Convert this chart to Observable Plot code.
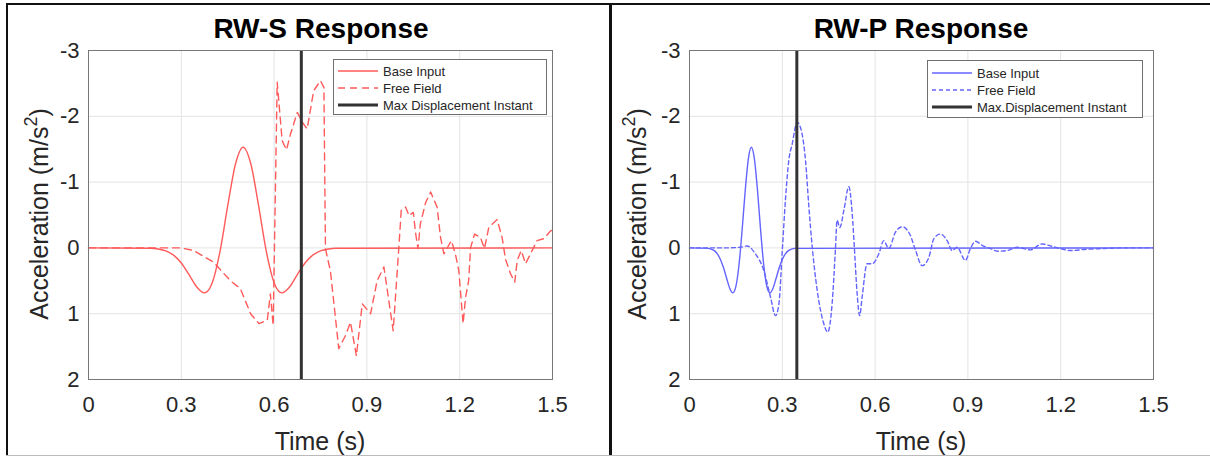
<!DOCTYPE html>
<html>
<head>
<meta charset="utf-8">
<script src="https://cdn.jsdelivr.net/npm/d3@7"></script>
<script src="https://cdn.jsdelivr.net/npm/@observablehq/plot@0.6"></script>
<style>
  html, body { margin: 0; padding: 0; background: #fff; }
  #wrap { position: relative; width: 1210px; height: 458px; overflow: hidden; background: #fff;
          font-family: "Liberation Sans", Arial, Helvetica, sans-serif; color: #262626; }
  .panel { position: absolute; top: 0; }
  .line { position: absolute; }
  .title { position: absolute; font-weight: bold; font-size: 28px; color: #000; transform: translate(-50%, -50%); white-space: nowrap; }
  .xlab { position: absolute; font-size: 25px; transform: translate(-50%, -50%); white-space: nowrap; }
  .ylab { position: absolute; font-size: 25px; transform: translate(-50%, -50%) rotate(-90deg); white-space: nowrap; }
  .ylab sup { font-size: 18px; position: relative; top: -4px; vertical-align: top; }
  .legend { position: absolute; border: 1px solid #6f6f6f; background: #fff; box-sizing: border-box; }
  .lrow { position: absolute; left: 4px; height: 16px; display: flex; align-items: center; font-size: 13px; color: #262626; white-space: nowrap; }
  .lrow svg { margin-right: 5px; }
</style>
</head>
<body>
<div id="wrap"></div>
<script>
// ---------- data ----------
const xTicks = [0, 0.3, 0.6, 0.9, 1.2, 1.5];
const yTicks = [-3, -2, -1, 0, 1, 2];

// RW-S panel
const sBaseTime = [0, 0.2, 0.225, 0.25, 0.275, 0.3, 0.325, 0.35, 0.375, 0.4, 0.425, 0.45, 0.475, 0.5,
  0.525, 0.55, 0.575, 0.6, 0.625, 0.65, 0.675, 0.7, 0.725, 0.75, 0.775, 0.8, 1.5];
const sBaseAcc = [0, 0.005, 0.016, 0.045, 0.110, 0.229, 0.406, 0.594, 0.683, 0.529, 0.057, -0.637, -1.272, -1.53,
  -1.272, -0.637, 0.057, 0.529, 0.683, 0.594, 0.406, 0.229, 0.110, 0.045, 0.016, 0.005, 0];
const sFreeTime = [0, 0.30, 0.34, 0.405, 0.459, 0.491, 0.524, 0.551, 0.578, 0.588, 0.597, 0.610, 0.626, 0.640,
  0.653, 0.675, 0.691, 0.707, 0.728, 0.750, 0.761, 0.766, 0.782, 0.809, 0.831, 0.847, 0.866, 0.885, 0.912,
  0.933, 0.955, 0.985, 1.003, 1.011, 1.025, 1.036, 1.050, 1.057, 1.065, 1.073, 1.090, 1.106, 1.127, 1.138,
  1.149, 1.173, 1.186, 1.197, 1.211, 1.219, 1.229, 1.235, 1.248, 1.267, 1.280, 1.294, 1.321, 1.337, 1.348,
  1.364, 1.378, 1.386, 1.399, 1.413, 1.429, 1.450, 1.472, 1.494, 1.5];
const sFreeAcc = [0, 0, 0.04, 0.22, 0.50, 0.62, 1.0, 1.15, 1.10, 0.70, 1.18, -2.52, -1.63, -1.49,
  -1.73, -2.06, -1.91, -1.81, -2.39, -2.54, -2.44, 0.01, 0.35, 1.53, 1.33, 1.13, 1.64, 0.85, 1.0,
  0.50, 0.29, 1.26, 0.01, -0.57, -0.62, -0.49, -0.54, -0.24, 0.01, -0.37, -0.69, -0.85, -0.62, -0.16,
  0.09, -0.11, 0.09, 0.34, 1.15, 0.75, 0.50, 0, -0.21, -0.16, 0.01, -0.31, -0.43, -0.16, 0.17,
  0.39, 0.52, 0.19, 0.04, 0.24, 0.09, -0.11, -0.14, -0.26, -0.27];
const sMaxDisp = 0.688;

// RW-P panel
const pBaseTime = [0, 0.06, 0.07, 0.08, 0.09, 0.10, 0.11, 0.12, 0.13, 0.14, 0.15, 0.16, 0.17, 0.18, 0.19, 0.20,
  0.21, 0.22, 0.23, 0.24, 0.25, 0.26, 0.27, 0.28, 0.29, 0.30, 0.31, 0.32, 0.33, 0.34, 1.5];
const pBaseAcc = [0, 0.007, 0.018, 0.042, 0.090, 0.175, 0.302, 0.462, 0.613, 0.683, 0.584, 0.260, -0.264, -0.864, -1.346, -1.53,
  -1.346, -0.864, -0.264, 0.260, 0.584, 0.683, 0.613, 0.462, 0.302, 0.175, 0.090, 0.042, 0.018, 0.007, 0];
const pFreeTime = [0, 0.11, 0.165, 0.186, 0.213, 0.240, 0.262, 0.278, 0.289, 0.300, 0.310, 0.321, 0.332, 0.348,
  0.364, 0.375, 0.386, 0.397, 0.413, 0.434, 0.447, 0.461, 0.472, 0.477, 0.486, 0.499, 0.515, 0.526, 0.533,
  0.542, 0.550, 0.558, 0.574, 0.591, 0.612, 0.628, 0.644, 0.666, 0.688, 0.714, 0.731, 0.752, 0.774, 0.790,
  0.811, 0.833, 0.849, 0.865, 0.892, 0.908, 0.925, 0.946, 0.973, 0.995, 1.027, 1.059, 1.102, 1.140, 1.167,
  1.199, 1.232, 1.286, 1.34, 1.39, 1.5];
const pFreeAcc = [0, 0, -0.01, -0.03, 0.09, 0.34, 0.75, 1.03, 0.85, 0.04, -0.72, -1.33, -1.58, -1.91,
  -1.73, -1.33, -0.62, 0, 0.65, 1.15, 1.28, 0.85, 0, -0.42, -0.31, -0.57, -0.93, -0.52, 0,
  0.70, 1.03, 0.75, 0.24, 0.24, 0.09, -0.11, 0.01, -0.24, -0.32, -0.19, 0.04, 0.27, 0.14, -0.14,
  -0.21, -0.11, 0.04, -0.01, 0.19, 0.01, -0.10, -0.04, 0.01, 0.05, 0.04, -0.01, 0.03, -0.06, -0.03,
  0.01, 0.04, 0.02, 0.01, 0, 0];
const pMaxDisp = 0.347;

const sTitle = "RW-S Response";
const pTitle = "RW-P Response";
const sLegend = ["Base Input", "Free Field", "Max Displacement Instant"];
const pLegend = ["Base Input", "Free Field", "Max.Displacement Instant"];
const red = "#ff5a5a";
const blue = "#6464ff";

// ---------- drawing ----------
const zip = (ts, vs) => ts.map((t, i) => ({t, v: vs[i]}));
const wrap = document.getElementById("wrap");
const FONT = '"Liberation Sans", Arial, Helvetica, sans-serif';

function panel({left, width, mLeft, mRight, base, free, freeCurve, maxDisp, color, dash}) {
  const mTop = 50, mBottom = 79, height = 458;
  const chart = Plot.plot({
    width, height,
    marginLeft: mLeft, marginRight: mRight, marginTop: mTop, marginBottom: mBottom,
    style: {fontFamily: FONT, fontSize: "22px", color: "#262626", background: "transparent"},
    x: {domain: [0, 1.5]},
    y: {domain: [-3, 2], reverse: true},
    marks: [
      Plot.gridX({ticks: xTicks, stroke: "#e3e3e3", strokeOpacity: 1}),
      Plot.gridY({ticks: yTicks, stroke: "#e3e3e3", strokeOpacity: 1}),
      Plot.line(base, {x: "t", y: "v", stroke: color, strokeWidth: 1.4, curve: "monotone-x"}),
      Plot.line(free, {x: "t", y: "v", stroke: color, strokeWidth: 1.4, strokeDasharray: dash, curve: freeCurve}),
      Plot.ruleX([maxDisp], {stroke: "#333", strokeWidth: 3}),
      Plot.frame({stroke: "#777", strokeWidth: 1}),
      Plot.axisX({ticks: xTicks, tickSize: 0, tickPadding: 17, tickFormat: d => String(d), label: null, fill: "#262626"}),
      Plot.axisY({ticks: yTicks, tickSize: 0, tickPadding: 9, tickFormat: d => String(d), label: null, fill: "#262626"})
    ]
  });
  const d = document.createElement("div");
  d.className = "panel";
  d.style.left = left + "px";
  d.appendChild(chart);
  wrap.appendChild(d);
}

panel({left: 0, width: 610, mLeft: 88, mRight: 58, base: zip(sBaseTime, sBaseAcc), free: zip(sFreeTime, sFreeAcc),
  freeCurve: "linear", maxDisp: sMaxDisp, color: red, dash: "7,5"});
panel({left: 610, width: 600, mLeft: 79, mRight: 57, base: zip(pBaseTime, pBaseAcc), free: zip(pFreeTime, pFreeAcc),
  freeCurve: "monotone-x", maxDisp: pMaxDisp, color: blue, dash: "4,3"});

function addDiv(cls, html, styles) {
  const e = document.createElement("div");
  e.className = cls;
  e.innerHTML = html;
  Object.assign(e.style, styles);
  wrap.appendChild(e);
  return e;
}

// titles and axis labels
addDiv("title", sTitle, {left: "321px", top: "29px"});
addDiv("title", pTitle, {left: "921px", top: "29px"});
addDiv("xlab", "Time (s)", {left: "320px", top: "441px"});
addDiv("xlab", "Time (s)", {left: "921px", top: "441px"});
addDiv("ylab", "Acceleration (m/s<sup>2</sup>)", {left: "39px", top: "214px"});
addDiv("ylab", "Acceleration (m/s<sup>2</sup>)", {left: "637px", top: "214px"});

// legends
function legend(x, y, w, h, rowTops, labels, color, dash) {
  const box = addDiv("legend", "", {left: x + "px", top: y + "px", width: w + "px", height: h + "px"});
  const samples = [
    `<line x1="0" x2="40" y1="5" y2="5" stroke="${color}" stroke-width="1.4"/>`,
    `<line x1="0" x2="40" y1="5" y2="5" stroke="${color}" stroke-width="1.4" stroke-dasharray="${dash}"/>`,
    `<line x1="0" x2="40" y1="5" y2="5" stroke="#333" stroke-width="3"/>`
  ];
  labels.forEach((lab, i) => {
    const r = document.createElement("div");
    r.className = "lrow";
    r.style.top = rowTops[i] + "px";
    r.innerHTML = `<svg width="40" height="10">${samples[i]}</svg><span>${lab}</span>`;
    box.appendChild(r);
  });
}
legend(333, 59, 214, 56, [3, 20, 37], sLegend, red, "7,5");
legend(927, 60, 216, 58, [4, 21, 38], pLegend, blue, "4,3");

// panel borders
addDiv("line", "", {left: "6px", top: "3px", width: "1204px", height: "2px", background: "#111"});
addDiv("line", "", {left: "6px", top: "3px", width: "2px", height: "453px", background: "#111"});
addDiv("line", "", {left: "609px", top: "3px", width: "3px", height: "453px", background: "#111"});
addDiv("line", "", {left: "6px", top: "455px", width: "1204px", height: "1px", background: "#bbb"});
</script>
</body>
</html>
